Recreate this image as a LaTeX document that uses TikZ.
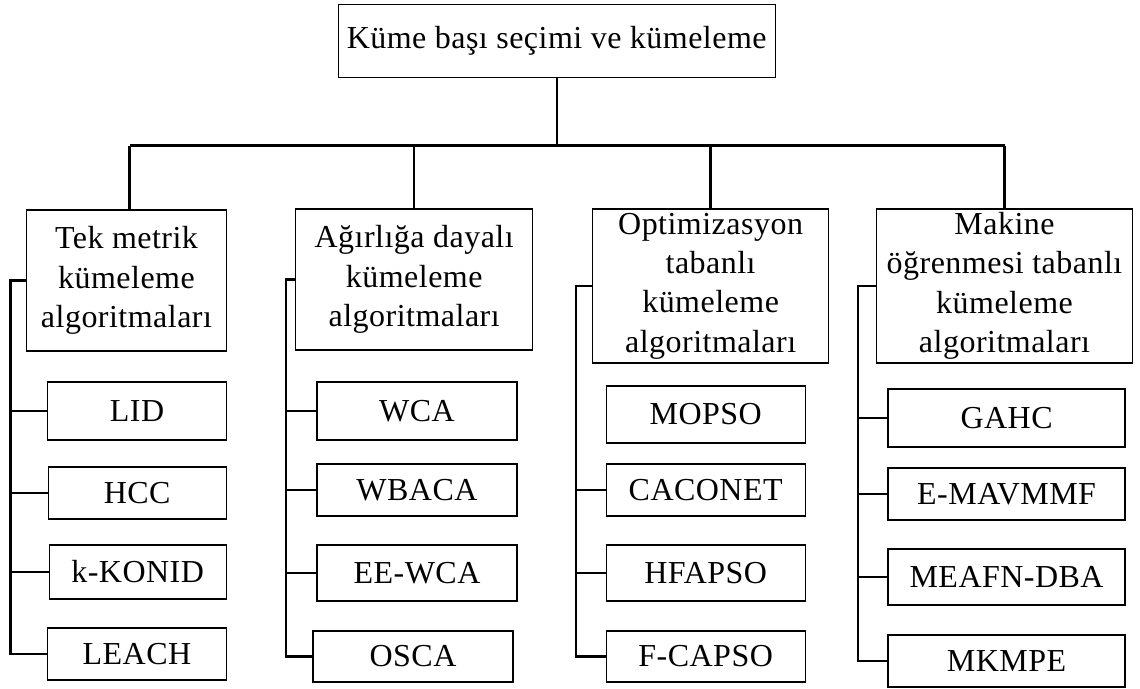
\documentclass[tikz,border=0pt]{standalone}
\usepackage{fontspec}
\setmainfont{Liberation Serif}[LetterSpace=1.5]
\begin{document}
\begin{tikzpicture}[x=1pt,y=-1pt,
  box/.style={draw, line width=1.4pt, rectangle, inner sep=0pt, align=center,
              font=\fontsize{32}{39.4}\selectfont},
  conn/.style={line width=2.3pt}]
\useasboundingbox (0,0) rectangle (1140,688);

% root
\node[box, minimum width=437pt, minimum height=73pt] (root) at (556.7,41) {Küme başı seçimi ve kümeleme};

% categories
\node[box, minimum width=200pt, minimum height=141pt] (c1) at (126.5,280.5) {Tek metrik\\kümeleme\\algoritmaları};
\node[box, minimum width=237pt, minimum height=141pt] (c2) at (414.2,279.5) {Ağırlığa dayalı\\kümeleme\\algoritmaları};
\node[box, minimum width=236pt, minimum height=154pt] (c3) at (710.6,286) {Optimizasyon\\tabanlı\\kümeleme\\algoritmaları};
\node[box, minimum width=256pt, minimum height=154pt] (c4) at (1004.5,286) {Makine\\öğrenmesi tabanlı\\kümeleme\\algoritmaları};

% leaves, column 1
\node[box, minimum width=179pt, minimum height=58pt] (lid)    at (137,411)   {LID};
\node[box, minimum width=178pt, minimum height=52pt] (hcc)    at (137.2,493) {HCC};
\node[box, minimum width=177pt, minimum height=54pt] (kkonid) at (137.7,572) {k-KONID};
\node[box, minimum width=179pt, minimum height=52pt] (leach)  at (137,654)   {LEACH};
% column 2
\node[box, minimum width=200pt, minimum height=58pt] (wca)    at (417,411)   {WCA};
\node[box, minimum width=200pt, minimum height=52pt] (wbaca)  at (417,490)   {WBACA};
\node[box, minimum width=200pt, minimum height=56pt] (eewca)  at (417,573)   {EE-WCA};
\node[box, minimum width=200pt, minimum height=51pt] (osca)   at (413,656.5) {OSCA};
% column 3
\node[box, minimum width=199pt, minimum height=57pt] (mopso)  at (705.7,414.5) {MOPSO};
\node[box, minimum width=199pt, minimum height=52pt] (caconet) at (705.7,490) {CACONET};
\node[box, minimum width=199pt, minimum height=56pt] (hfapso) at (705.7,573)  {HFAPSO};
\node[box, minimum width=199pt, minimum height=51pt] (fcapso) at (705.7,656.5) {F-CAPSO};
% column 4
\node[box, minimum width=237pt, minimum height=58pt] (gahc)   at (1006.6,418) {GAHC};
\node[box, minimum width=237pt, minimum height=52pt] (emav)   at (1006.6,494) {E-MAVMMF};
\node[box, minimum width=237pt, minimum height=56pt] (meafn)  at (1006.6,577) {MEAFN-DBA};
\node[box, minimum width=237pt, minimum height=52pt] (mkmpe)  at (1006.6,661) {MKMPE};

% bus and branch lines
\coordinate (bus) at (556.7,145.5);
\coordinate (g1) at (10.6,0);
\coordinate (g2) at (286,0);
\coordinate (g3) at (576,0);
\coordinate (g4) at (858.2,0);

\draw[conn] (root.south) -- (bus);
\draw[conn] ([xshift=3pt]c1.north |- bus) -- (c4.north |- bus);
\draw[conn] ([xshift=3pt]c1.north |- bus) -- ([xshift=3pt]c1.north);
\draw[conn] (c2.north |- bus) -- (c2.north);
\draw[conn] (c3.north |- bus) -- (c3.north);
\draw[conn] (c4.north |- bus) -- (c4.north);

% column 1 tree
\draw[conn] (c1.west) -- (c1.west -| g1) -- (g1 |- leach.west) -- (leach.west);
\draw[conn] (g1 |- lid.west) -- (lid.west);
\draw[conn] (g1 |- hcc.west) -- (hcc.west);
\draw[conn] (g1 |- kkonid.west) -- (kkonid.west);
% column 2 tree
\draw[conn] (c2.west) -- (c2.west -| g2) -- (g2 |- osca.west) -- (osca.west);
\draw[conn] (g2 |- wca.west) -- (wca.west);
\draw[conn] (g2 |- wbaca.west) -- (wbaca.west);
\draw[conn] (g2 |- eewca.west) -- (eewca.west);
% column 3 tree
\draw[conn] (c3.west) -- (c3.west -| g3) -- (g3 |- fcapso.west) -- (fcapso.west);
\draw[conn] (g3 |- caconet.west) -- (caconet.west);
\draw[conn] (g3 |- hfapso.west) -- (hfapso.west);
% column 4 tree
\draw[conn] (c4.west) -- (c4.west -| g4) -- (g4 |- mkmpe.west) -- (mkmpe.west);
\draw[conn] (g4 |- gahc.west) -- (gahc.west);
\draw[conn] (g4 |- emav.west) -- (emav.west);
\draw[conn] (g4 |- meafn.west) -- (meafn.west);
\end{tikzpicture}
\end{document}
